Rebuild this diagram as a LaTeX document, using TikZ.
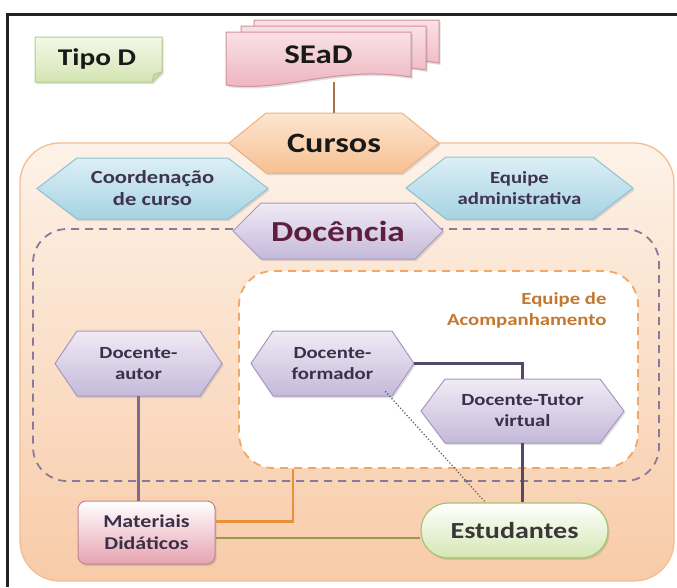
\documentclass[tikz,border=0pt]{standalone}
\usepackage{fontspec}
\setmainfont{Carlito}[FakeStretch=1.22]
\usetikzlibrary{calc,shadows}
\definecolor{frameC}{HTML}{222222}
\definecolor{outTop}{HTML}{FDF2E8}
\definecolor{outBot}{HTML}{F8CBA8}
\definecolor{outBd}{HTML}{F3BE93}
\definecolor{purpDash}{HTML}{8A7A9A}
\definecolor{orDash}{HTML}{F0A868}
\definecolor{blueTop}{HTML}{DCEFF6}
\definecolor{blueBot}{HTML}{A6D3E2}
\definecolor{blueBd}{HTML}{8FC2D3}
\definecolor{purTop}{HTML}{F0EBF5}
\definecolor{purBot}{HTML}{C5B9DA}
\definecolor{purBd}{HTML}{A698C0}
\definecolor{orTop}{HTML}{FDE6D2}
\definecolor{orBot}{HTML}{F6C092}
\definecolor{orBd}{HTML}{F0B07C}
\definecolor{pinkTop}{HTML}{F9E1E6}
\definecolor{pinkBot}{HTML}{EDB0BC}
\definecolor{pinkBd}{HTML}{D0929E}
\definecolor{grnTop}{HTML}{F4F8E9}
\definecolor{grnBot}{HTML}{D3E5B2}
\definecolor{grnBd}{HTML}{B4CC88}
\definecolor{estBot}{HTML}{D4E7B4}
\definecolor{estBd}{HTML}{A5C46E}
\definecolor{matBot}{HTML}{E6A3B1}
\definecolor{matBd}{HTML}{C4828F}
\definecolor{txtBlue}{HTML}{3F3350}
\definecolor{txtPur}{HTML}{3A3048}
\definecolor{txtDoc}{HTML}{5E1F3F}
\definecolor{txtAcomp}{HTML}{C27830}
\definecolor{lnPurA}{HTML}{7D6A93}
\definecolor{lnPurB}{HTML}{54486A}
\definecolor{lnBrown}{HTML}{B0704A}
\definecolor{lnOrange}{HTML}{E8913A}
\definecolor{lnOlive}{HTML}{9C9A4A}
\tikzset{
  shad/.style={drop shadow={opacity=0.25,shadow xshift=1.5pt,shadow yshift=-2pt}},
  hexblue/.style={draw=blueBd,line width=1pt,top color=blueTop,bottom color=blueBot,shad},
  hexpur/.style={draw=purBd,line width=1pt,top color=purTop,bottom color=purBot,shad},
  hexor/.style={draw=orBd,line width=1pt,top color=orTop,bottom color=orBot,shad},
  docsh/.style={draw=pinkBd,line width=1pt,top color=pinkTop,bottom color=pinkBot,shad},
  fS/.style={font=\fontsize{17}{21}\selectfont\bfseries},
  fM/.style={font=\fontsize{18}{22}\selectfont\bfseries},
  fL/.style={font=\fontsize{28}{30}\selectfont\bfseries},
  conn/.style={line width=2.4pt},
  dashbox/.style={line width=1.8pt,dash pattern=on 8pt off 6pt,rounded corners=34pt}
}
% #1 name, #2 x, #3 y, #4 half width, #5 half height, #6 inset, #7 fill style, #8 text style, #9 text
\newcommand\hexnode[9]{%
  \path[#7] ({#2-#4},#3) -- ({#2-#4+#6},{#3-#5}) -- ({#2+#4-#6},{#3-#5})
     -- ({#2+#4},#3) -- ({#2+#4-#6},{#3+#5}) -- ({#2-#4+#6},{#3+#5}) -- cycle;
  \node[#8,minimum width={2*#4},minimum height={2*#5},inner sep=0pt,align=center] (#1) at (#2,#3) {#9};}
% #1 left, #2 top, #3 right, #4 bottom, #5 style
\newcommand\docpath[5]{%
  \path[#5] (#1,#2) -- (#3,#2) -- (#3,{#4-8})
    .. controls ({#1+0.6*(#3-#1)},{#4-20}) and ({#1+0.3*(#3-#1)},{#4+8}) .. (#1,#4) -- cycle;}
\begin{document}
\begin{tikzpicture}[x=1pt,y=-1pt]
\useasboundingbox (0,0) rectangle (677,587);
\fill[white] (0,0) rectangle (677,587);
\draw[frameC,line width=3pt] (7,587) -- (7,14) -- (677,14);

% outer group
\node[draw=outBd,line width=1.3pt,rounded corners=40pt,top color=outTop,bottom color=outBot,
      minimum width=654,minimum height=438,inner sep=0pt] (outer) at (347,362) {};
% Docencia group
\node[draw=purpDash,dashbox,minimum width=626,minimum height=252,inner sep=0pt] (docgrp) at (346,355) {};
% Equipe de acompanhamento group
\node[draw=orDash,dashbox,fill=white,minimum width=399,minimum height=197,inner sep=0pt] (acomp) at (438.5,369.5) {};
\node[fS,text=txtAcomp,align=right,anchor=east] (acomptxt) at (610,310) {Equipe de\\Acompanhamento};

% Tipo D
\path[draw=grnBd,line width=1pt,top color=grnTop,bottom color=grnBot,shad]
  (35,37) -- (162,37) -- (162,72) -- (152,82) -- (35,82) -- cycle;
\path[draw=grnBd,line width=0.8pt,fill=grnBd!70] (152,82) -- (154,74) -- (162,72) -- cycle;
\node[font=\fontsize{24}{26}\selectfont\bfseries,text=black!90] (tipo) at (97,59) {Tipo D};

% SEaD stacked documents
\docpath{254}{20}{439}{71}{docsh}
\docpath{241}{26}{426}{78}{docsh}
\docpath{226}{32}{411}{85}{docsh}
\node[font=\fontsize{27}{29}\selectfont\bfseries,text=black!90,minimum width=185,minimum height=53,inner sep=0pt] (sead) at (318.5,55) {SEaD};

% hexagons
\hexnode{cur}{334}{143}{105}{30}{37}{hexor}{fL,text=black!90}{Cursos}
\hexnode{coord}{152.5}{188.5}{115.5}{30.5}{40}{hexblue}{font=\fontsize{18.5}{22}\selectfont\bfseries,text=txtBlue}{Coordenação\\de curso}
\hexnode{eqadm}{519.5}{188}{113.5}{31}{40}{hexblue}{fS,text=txtBlue}{Equipe\\administrativa}
\hexnode{doc}{338}{231}{105}{28}{28}{hexpur}{font=\fontsize{29}{31}\selectfont\bfseries,text=txtDoc}{Docência}
\hexnode{dautor}{138.5}{363.5}{83.5}{32.5}{22}{hexpur}{fS,text=txtPur}{Docente-\\autor}
\hexnode{dform}{332.5}{363.5}{81.5}{32.5}{22}{hexpur}{fS,text=txtPur}{Docente-\\formador}
\hexnode{dtutor}{522.5}{411}{101.5}{32}{24}{hexpur}{fS,text=txtPur}{Docente-Tutor\\virtual}

% Materiais didaticos
\node[draw=matBd,line width=1pt,rounded corners=8pt,top color=white,bottom color=matBot,shad,
      minimum width=137,minimum height=63,inner sep=0pt,fM,text=txtPur,align=center] (mat) at (146.5,532.5) {Materiais\\Didáticos};
% Estudantes
\node[draw=estBd,line width=1.2pt,rounded corners=27pt,top color=white,bottom color=estBot,shad,
      minimum width=187,minimum height=55,inner sep=0pt,font=\fontsize{23}{25}\selectfont\bfseries,text=black!78] (est) at (514.5,530.5) {Estudantes};

% connectors
\draw[conn,lnBrown] (cur.north) -- (cur.north |- sead.south);
\draw[conn,lnPurA] (dautor.south) -- (dautor.south |- mat.north);
\draw[conn,lnPurB] (dform.east) -| (dtutor.north);
\draw[conn,lnPurB] (dtutor.south) -- (dtutor.south |- est.north);
\draw[conn,lnOrange] ($(mat.east)+(0,-11)$) -| ($(acomp.south west)+(55,0)$);
\draw[conn,lnOlive] ($(mat.east)+(0,5.5)$) -- ($(est.west)+(0,7.5)$);
\draw[line width=1.2pt,black!65,dotted] ($(dform.south east)+(-29,-5)$) -- ($(est.north west)+(65,0)$);
\end{tikzpicture}
\end{document}
